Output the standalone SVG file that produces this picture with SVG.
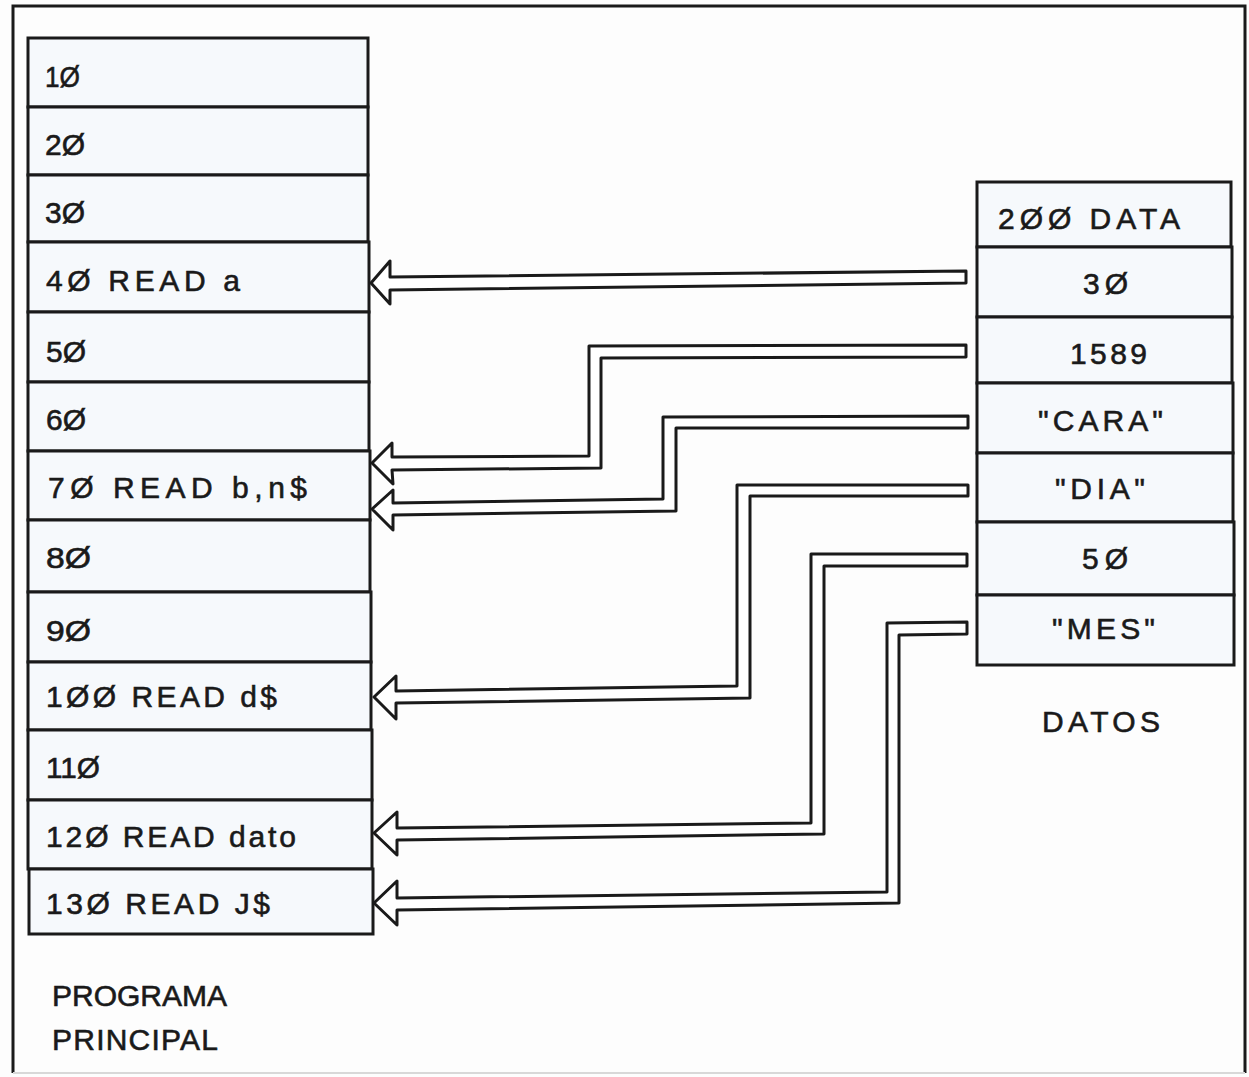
<svg xmlns="http://www.w3.org/2000/svg" width="1249" height="1077" viewBox="0 0 1249 1077">
<style>
.bg{fill:#fdfdfd}
.cell{fill:#f6f9fc;stroke:#1a1a1a;stroke-width:3}
.t{font-family:"Liberation Sans",Arial,sans-serif;font-size:30px;fill:#1a1a1a;stroke:#1a1a1a;stroke-width:0.6}
.arrow{fill:#ffffff;stroke:#1a1a1a;stroke-width:3;stroke-linejoin:round}
</style>
<rect class="bg" x="0" y="0" width="1249" height="1077"/>
<g id="frame">
<path d="M13,1073 L13,6 L1245,6 L1245,1073" fill="none" stroke="#1a1a1a" stroke-width="3"/>
<line x1="13" y1="1073" x2="1245" y2="1073" stroke="#d8d8d8" stroke-width="2"/>
</g>
<g id="programa">
<g id="l10"><rect class="cell" x="28" y="38" width="340" height="69"/><text class="t" x="45" y="87" textLength="35" lengthAdjust="spacingAndGlyphs">1Ø</text></g>
<g id="l20"><rect class="cell" x="28" y="107" width="340" height="68"/><text class="t" x="45" y="155" textLength="40" lengthAdjust="spacingAndGlyphs">2Ø</text></g>
<g id="l30"><rect class="cell" x="28" y="175" width="340" height="67"/><text class="t" x="45" y="223" textLength="40" lengthAdjust="spacingAndGlyphs">3Ø</text></g>
<g id="l40"><rect class="cell" x="28" y="242" width="341" height="70"/><text class="t" x="46" y="291" textLength="194" lengthAdjust="spacing">4Ø READ a</text></g>
<g id="l50"><rect class="cell" x="28" y="312" width="341" height="70"/><text class="t" x="46" y="362" textLength="40" lengthAdjust="spacingAndGlyphs">5Ø</text></g>
<g id="l60"><rect class="cell" x="28" y="382" width="341" height="69"/><text class="t" x="46" y="430" textLength="40" lengthAdjust="spacingAndGlyphs">6Ø</text></g>
<g id="l70"><rect class="cell" x="28" y="451" width="342" height="69"/><text class="t" x="48" y="498" textLength="259" lengthAdjust="spacing">7Ø READ b,n$</text></g>
<g id="l80"><rect class="cell" x="28" y="520" width="342" height="72"/><text class="t" x="46" y="568" textLength="45" lengthAdjust="spacingAndGlyphs">8Ø</text></g>
<g id="l90"><rect class="cell" x="28" y="592" width="343" height="70"/><text class="t" x="46" y="641" textLength="45" lengthAdjust="spacingAndGlyphs">9Ø</text></g>
<g id="l100"><rect class="cell" x="28" y="662" width="343" height="68"/><text class="t" x="46" y="707" textLength="231" lengthAdjust="spacing">1ØØ READ d$</text></g>
<g id="l110"><rect class="cell" x="28" y="730" width="344" height="70"/><text class="t" x="46" y="778" textLength="54" lengthAdjust="spacingAndGlyphs">11Ø</text></g>
<g id="l120"><rect class="cell" x="28" y="800" width="344" height="69"/><text class="t" x="46" y="847" textLength="250" lengthAdjust="spacing">12Ø READ dato</text></g>
<g id="l130"><rect class="cell" x="29" y="869" width="344" height="65"/><text class="t" x="46" y="914" textLength="224" lengthAdjust="spacing">13Ø READ J$</text></g>
</g>
<g id="datos">
<g id="d200"><rect class="cell" x="977" y="182" width="254" height="65"/><text class="t" x="998" y="229" textLength="182" lengthAdjust="spacing">2ØØ  DATA</text></g>
<g id="d30"><rect class="cell" x="977" y="247" width="255" height="70"/><text class="t" x="1083" y="294" textLength="45" lengthAdjust="spacing">3Ø</text></g>
<g id="d1589"><rect class="cell" x="977" y="317" width="255" height="66"/><text class="t" x="1070" y="364" textLength="77" lengthAdjust="spacing">1589</text></g>
<g id="dcara"><rect class="cell" x="977" y="383" width="256" height="70"/><text class="t" x="1038" y="431" textLength="125" lengthAdjust="spacing">"CARA"</text></g>
<g id="ddia"><rect class="cell" x="977" y="453" width="256" height="69"/><text class="t" x="1055" y="499" textLength="90" lengthAdjust="spacing">"DIA"</text></g>
<g id="d50"><rect class="cell" x="977" y="522" width="257" height="73"/><text class="t" x="1082" y="569" textLength="46" lengthAdjust="spacing">5Ø</text></g>
<g id="dmes"><rect class="cell" x="977" y="595" width="257" height="70"/><text class="t" x="1052" y="639" textLength="103" lengthAdjust="spacing">"MES"</text></g>
</g>
<g id="labels">
<text class="t" x="1042" y="732" textLength="118" lengthAdjust="spacing">DATOS</text>
<text class="t" x="52" y="1006" textLength="175" lengthAdjust="spacing">PROGRAMA</text>
<text class="t" x="52" y="1050" textLength="166" lengthAdjust="spacing">PRINCIPAL</text>
</g>
<g id="connectors">
<path class="arrow" d="M371,283 L390,261 L390,277 L966,271 L966,283 L390,290 L390,304 Z"/>
<path class="arrow" d="M372,463 L392,443 L392,457 L589,456 L589,346 L966,345 L966,357 L601,358 L601,468 L392,470 L393,484 Z"/>
<path class="arrow" d="M372,509 L393,490 L393,503 L663,499 L663,417 L968,416 L968,428 L676,428 L676,511 L393,515 L393,530 Z"/>
<path class="arrow" d="M374,697 L396,676 L396,691 L737,686 L737,485 L968,485 L968,496 L750,496 L750,698 L396,703 L396,719 Z"/>
<path class="arrow" d="M374,833 L397,812 L397,828 L811,823 L811,554 L967,554 L967,566 L824,566 L824,834 L397,840 L397,855 Z"/>
<path class="arrow" d="M374,903 L397,881 L397,898 L887,892 L887,623 L967,622 L967,634 L899,635 L899,903 L397,910 L397,925 Z"/>
</g>
</svg>
